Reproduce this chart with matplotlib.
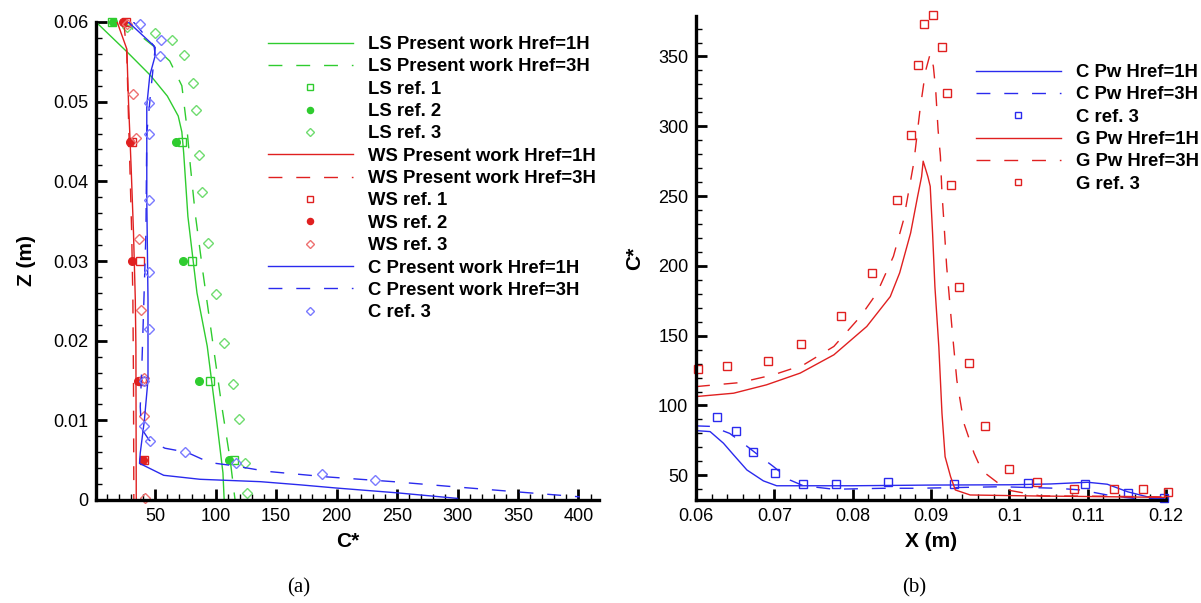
import matplotlib
matplotlib.use("Agg")
import matplotlib.pyplot as plt
from matplotlib.ticker import MultipleLocator

plt.rcParams['font.family'] = ['Liberation Sans', 'DejaVu Sans']

# ---- (a) profiles over height: C* vs Z ----
ls_1h_c = [1, 27, 46, 60, 69, 72, 73.5, 77, 84.5, 93, 101, 106, 107]
ls_1h_z = [0.06, 0.0562, 0.0533, 0.0507, 0.0482, 0.0462, 0.0436, 0.0356, 0.026, 0.0193, 0.0097, 0.0034, 0]
ls_3h_c = [22, 30, 37.6, 50, 62, 72, 76, 79, 83, 89.5, 98, 105, 112, 116]
ls_3h_z = [0.06, 0.0593, 0.0583, 0.0568, 0.0551, 0.052, 0.047, 0.042, 0.036, 0.0285, 0.0193, 0.0118, 0.005, 0]
ref_z = [0.06, 0.045, 0.03, 0.015, 0.005]
ls_ref1_c = [14.5, 72, 80.5, 95, 115]
ls_ref2_c = [15, 67, 73, 86, 110.7]
ls_ref3_c = [26.5, 50, 64, 74, 81, 84, 86.5, 89, 94, 100.5, 107, 114, 119.5, 124, 126]
ls_ref3_z = [0.0594, 0.0586, 0.0577, 0.0559, 0.0523, 0.049, 0.0433, 0.0387, 0.0323, 0.0258, 0.0197,
             0.0146, 0.0102, 0.0047, 0.0009]

ws_1h_c = [18.5, 26.5, 27.8, 30, 32, 33.5, 34, 34.3]
ws_1h_z = [0.06, 0.0566, 0.0503, 0.042, 0.0336, 0.0252, 0.0193, 0]
ws_3h_c = [24, 26.5, 27.5, 29, 30.5, 31.5, 32, 32.3]
ws_3h_z = [0.06, 0.056, 0.05, 0.042, 0.0336, 0.0252, 0.015, 0]
ws_ref1_c = [26, 30.5, 37, 39, 40.5]
ws_ref2_c = [23.3, 28.8, 30.7, 35.7, 39.8]
ws_ref3_c = [27, 31.5, 34, 36.8, 38.2, 40.4, 40.4, 41.2]
ws_ref3_z = [0.0598, 0.051, 0.0454, 0.0327, 0.0238, 0.0153, 0.0106, 0.0002]

c_1h_c = [27.7, 49, 50, 45.5, 43, 43, 44, 44, 41, 37.6, 37, 57, 87, 137, 170, 200, 250, 300]
c_1h_z = [0.06, 0.057, 0.0558, 0.0533, 0.0495, 0.0377, 0.0252, 0.0151, 0.01, 0.0059, 0.0046,
          0.0031, 0.0026, 0.0023, 0.0019, 0.0015, 0.0009, 0.0002]
c_3h_c = [32, 50, 47, 43, 42.3, 40.3, 39, 37.6, 38.5, 45, 58, 76, 95, 115, 142, 192, 247, 294, 351, 401]
c_3h_z = [0.06, 0.0568, 0.0524, 0.046, 0.0336, 0.0235, 0.0172, 0.0117, 0.009, 0.0075, 0.0065, 0.006,
          0.0047, 0.0043, 0.0036, 0.0029, 0.0023, 0.0017, 0.001, 0.0004]
c_ref3_c = [37, 55, 53.6, 44.5, 44.5, 44.5, 44.5, 44.5, 40.3, 40.3, 46, 75, 116.6, 187.7, 232]
c_ref3_z = [0.0597, 0.0578, 0.0557, 0.0498, 0.046, 0.0376, 0.0286, 0.0215, 0.015, 0.0093, 0.0074,
            0.006, 0.0047, 0.0033, 0.0025]

# ---- (b) profiles along the street: X vs C* ----
cb_1h_x = [0.06, 0.0618, 0.0635, 0.0648, 0.0665, 0.0686, 0.0703, 0.08, 0.09, 0.1, 0.1053, 0.11,
           0.1125, 0.1151, 0.1176, 0.1197, 0.12]
cb_1h_c = [82, 81.3, 73, 64.6, 53.8, 46, 42.5, 42.5, 43, 43.2, 43.8, 45, 43.6, 38.2, 34.6, 33.5, 34]
cb_3h_x = [0.06, 0.062, 0.0643, 0.066, 0.0682, 0.0699, 0.072, 0.0737, 0.0776, 0.084, 0.0882, 0.0989,
           0.1061, 0.1091, 0.1125, 0.1159, 0.12]
cb_3h_c = [85.4, 85, 80, 73, 63.4, 56.2, 46.6, 42.5, 40, 40.7, 40.7, 41.8, 40.7, 39.5, 35.9, 33.5, 33]
cb_ref3_x = [0.0627, 0.0651, 0.0673, 0.0701, 0.0737, 0.0779, 0.0845, 0.093, 0.1024, 0.1096, 0.1151, 0.1198]
cb_ref3_c = [91.6, 81.8, 66.5, 51.4, 43.8, 43.8, 45, 43.8, 44.7, 43.8, 37.1, 33.5]

g_1h_x = [0.06, 0.0648, 0.069, 0.0733, 0.0776, 0.0818, 0.0848, 0.086, 0.0874, 0.0883, 0.0888, 0.089,
          0.0896, 0.0899, 0.0902, 0.0905, 0.091, 0.0914, 0.0918, 0.0925, 0.0931, 0.095, 0.1031,
          0.1117, 0.1197, 0.12]
g_1h_c = [106.4, 108.8, 114.8, 123.2, 136.3, 156.6, 178, 195, 223.6, 250, 264, 275, 264, 257, 223.6,
          185, 142, 94.5, 63.3, 49, 39.5, 35.9, 35.2, 34.7, 34.2, 34.2]
g_3h_x = [0.06, 0.0609, 0.0656, 0.0699, 0.0737, 0.0776, 0.081, 0.0831, 0.0852, 0.0865, 0.0878, 0.0886,
          0.0893, 0.0899, 0.0903, 0.0906, 0.0909, 0.0912, 0.0914, 0.0916, 0.092, 0.0927, 0.0933,
          0.0942, 0.0955, 0.0965, 0.0989, 0.1002, 0.104, 0.112, 0.12]
g_3h_c = [113.5, 114, 116.4, 122, 129, 142.3, 163.8, 180.6, 206.8, 233, 273.8, 312, 339.5, 352, 343,
          326, 297.7, 278.6, 252, 235.5, 199.6, 154, 118, 87.3, 65.8, 53.3, 43, 39, 35.2, 35, 34.5]
g_ref3_x = [0.0602, 0.064, 0.0692, 0.0734, 0.0785, 0.0825, 0.0857, 0.0874, 0.0883, 0.0891, 0.0902,
            0.0914, 0.092, 0.0925, 0.0936, 0.0949, 0.0969, 0.1, 0.1035, 0.1083, 0.1133, 0.1171, 0.1202]
g_ref3_c = [126, 128.4, 132.2, 144, 164.3, 195, 247, 294, 343.8, 373, 380, 357, 324, 258, 184.6,
            130.3, 85.4, 54.3, 45.2, 40.2, 40.2, 40.2, 38.2]

GREEN = '#2fcc2f'
GREEN_L = '#6fdc6f'
RED = '#e02020'
RED_L = '#ee7070'
BLUE = '#2a2aee'
BLUE_L = '#7a7aff'
DASH = (0, (10, 10))
MS = 5.5
LEG = dict(loc='upper left', bbox_transform=None, frameon=False, borderpad=0, borderaxespad=0,
           handlelength=4.6, handletextpad=0.8, labelspacing=0.29,
           prop={'size': 13.3, 'weight': 'bold'}, markerscale=0.8)


def style_axes(ax):
    for side in ('top', 'right'):
        ax.spines[side].set_visible(False)
    for side in ('left', 'bottom'):
        ax.spines[side].set_linewidth(2.4)
    ax.tick_params(which='major', direction='in', length=8, width=2, labelsize=13, pad=5.5)
    ax.tick_params(which='minor', direction='in', length=4.5, width=1)


fig = plt.figure(figsize=(12.01, 6.03), dpi=100)
ax1 = fig.add_axes([96 / 1201, 1 - 500 / 603, 503 / 1201, 478 / 603])
ax2 = fig.add_axes([696 / 1201, 1 - 500 / 603, 470 / 1201, 484 / 603])
LEG['bbox_transform'] = fig.transFigure

# left panel
ax1.plot(ls_1h_c, ls_1h_z, color=GREEN, lw=1, label='LS Present work Href=1H')
ax1.plot(ls_3h_c, ls_3h_z, color=GREEN, lw=1, ls=DASH, label='LS Present work Href=3H')
ax1.plot(ls_ref1_c, ref_z, 's', mfc='none', mec=GREEN, ms=MS, mew=1, label='LS ref. 1', clip_on=False)
ax1.plot(ls_ref2_c, ref_z, 'o', mfc=GREEN, mec=GREEN, ms=MS, label='LS ref. 2', clip_on=False)
ax1.plot(ls_ref3_c, ls_ref3_z, 'D', mfc='none', mec=GREEN_L, ms=MS, mew=1, label='LS ref. 3', clip_on=False)
ax1.plot(ws_1h_c, ws_1h_z, color=RED, lw=1, label='WS Present work Href=1H')
ax1.plot(ws_3h_c, ws_3h_z, color=RED, lw=1, ls=DASH, label='WS Present work Href=3H')
ax1.plot(ws_ref1_c, ref_z, 's', mfc='none', mec=RED, ms=MS, mew=1, label='WS ref. 1', clip_on=False)
ax1.plot(ws_ref2_c, ref_z, 'o', mfc=RED, mec=RED, ms=MS, label='WS ref. 2', clip_on=False)
ax1.plot(ws_ref3_c, ws_ref3_z, 'D', mfc='none', mec=RED_L, ms=MS, mew=1, label='WS ref. 3', clip_on=False)
ax1.plot(c_1h_c, c_1h_z, color=BLUE, lw=1, label='C Present work Href=1H')
ax1.plot(c_3h_c, c_3h_z, color=BLUE, lw=1, ls=DASH, label='C Present work Href=3H')
ax1.plot(c_ref3_c, c_ref3_z, 'D', mfc='none', mec=BLUE_L, ms=MS, mew=1, label='C ref. 3', clip_on=False)

ax1.set_xlim(1, 417)
ax1.set_ylim(0, 0.06)
ax1.set_xticks([50, 100, 150, 200, 250, 300, 350, 400])
ax1.xaxis.set_minor_locator(MultipleLocator(10))
ax1.set_yticks([0, 0.01, 0.02, 0.03, 0.04, 0.05, 0.06])
ax1.set_yticklabels(['0', '0.01', '0.02', '0.03', '0.04', '0.05', '0.06'])
ax1.yaxis.set_minor_locator(MultipleLocator(0.002))
style_axes(ax1)
ax1.set_xlabel('C*', fontsize=15, fontweight='bold', labelpad=5)
ax1.set_ylabel('Z (m)', fontsize=15, fontweight='bold', labelpad=12)
ax1.legend(bbox_to_anchor=(268 / 1201, 1 - 36 / 603), **LEG)

# right panel
ax2.plot(cb_1h_x, cb_1h_c, color=BLUE, lw=1, label='C Pw Href=1H')
ax2.plot(cb_3h_x, cb_3h_c, color=BLUE, lw=1, ls=DASH, label='C Pw Href=3H')
ax2.plot(cb_ref3_x, cb_ref3_c, 's', mfc='none', mec=BLUE, ms=MS, mew=1, label='C ref. 3', clip_on=False)
ax2.plot(g_1h_x, g_1h_c, color=RED, lw=1, label='G Pw Href=1H')
ax2.plot(g_3h_x, g_3h_c, color=RED, lw=1, ls=DASH, label='G Pw Href=3H')
ax2.plot(g_ref3_x, g_ref3_c, 's', mfc='none', mec=RED, ms=MS, mew=1, label='G ref. 3', clip_on=False)

ax2.set_xlim(0.06, 0.12)
ax2.set_ylim(32.3, 379)
ax2.set_xticks([0.06, 0.07, 0.08, 0.09, 0.1, 0.11, 0.12])
ax2.set_xticklabels(['0.06', '0.07', '0.08', '0.09', '0.1', '0.11', '0.12'])
ax2.xaxis.set_minor_locator(MultipleLocator(0.002))
ax2.set_yticks([50, 100, 150, 200, 250, 300, 350])
ax2.yaxis.set_minor_locator(MultipleLocator(10))
style_axes(ax2)
ax2.set_xlabel('X (m)', fontsize=15, fontweight='bold', labelpad=5)
ax2.set_ylabel('C*', fontsize=15, fontweight='bold', labelpad=10)
ax2.legend(bbox_to_anchor=(976 / 1201, 1 - 64 / 603), **LEG)

fig.text(299 / 1201, 1 - 588 / 603, '(a)', family='Liberation Serif', fontsize=15, ha='center', va='center')
fig.text(914 / 1201, 1 - 588 / 603, '(b)', family='Liberation Serif', fontsize=15, ha='center', va='center')

fig.savefig('out.png', dpi=100)
